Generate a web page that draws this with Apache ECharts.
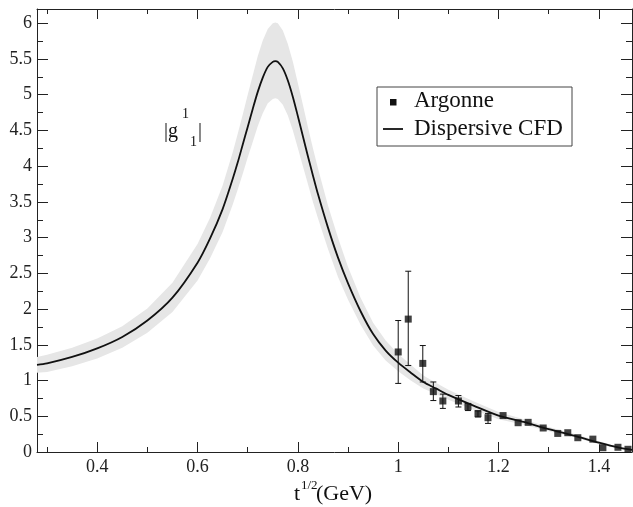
<!DOCTYPE html>
<html>
<head>
<meta charset="utf-8">
<script src="https://cdn.jsdelivr.net/npm/echarts@6/dist/echarts.min.js"></script>
<style>html,body{margin:0;padding:0;background:#fff}#c{width:633px;height:507px}</style>
</head>
<body>
<div id="c"></div>
<script>
// ---- data ----
var cfdT = [0.28,0.30,0.35,0.40,0.45,0.50,0.55,0.60,0.625,0.65,0.67,0.68,0.69,0.70,0.71,0.72,0.73,0.74,0.75,0.755,0.76,0.77,0.78,0.79,0.80,0.81,0.82,0.83,0.84,0.86,0.88,0.90,0.925,0.95,0.975,1.0,1.025,1.05,1.075,1.1,1.15,1.2,1.25,1.3,1.35,1.4,1.44,1.466];
var cfdMid = [1.22,1.24,1.33,1.45,1.61,1.84,2.16,2.65,2.99,3.40,3.82,4.05,4.30,4.55,4.80,5.04,5.24,5.39,5.46,5.47,5.46,5.37,5.20,4.97,4.70,4.42,4.14,3.87,3.61,3.14,2.72,2.36,1.97,1.65,1.42,1.25,1.11,0.98,0.89,0.80,0.65,0.51,0.42,0.32,0.23,0.13,0.06,0.03];
var cfdUpper = [1.33,1.36,1.46,1.59,1.76,2.01,2.37,2.91,3.28,3.73,4.19,4.45,4.72,5.00,5.27,5.54,5.76,5.92,6.00,6.01,6.00,5.90,5.71,5.46,5.16,4.86,4.55,4.25,3.97,3.45,3.00,2.59,2.16,1.81,1.56,1.37,1.22,1.07,0.97,0.87,0.71,0.56,0.46,0.35,0.255,0.15,0.075,0.04];
var cfdLower = [1.11,1.12,1.20,1.31,1.46,1.67,1.96,2.40,2.71,3.08,3.46,3.67,3.89,4.12,4.34,4.56,4.74,4.88,4.94,4.95,4.94,4.86,4.71,4.50,4.25,4.00,3.75,3.50,3.27,2.84,2.45,2.13,1.78,1.49,1.28,1.13,1.00,0.89,0.81,0.73,0.59,0.46,0.38,0.29,0.205,0.11,0.045,0.02];

var argT   = [1.0,1.02,1.049,1.07,1.089,1.12,1.139,1.159,1.179,1.209,1.239,1.259,1.289,1.318,1.338,1.358,1.388,1.408,1.438,1.458];
var argV   = [1.40,1.86,1.24,0.845,0.714,0.714,0.635,0.537,0.48,0.51,0.41,0.415,0.336,0.26,0.27,0.20,0.18,0.06,0.066,0.038];
var argLo  = [0.96,1.21,0.98,0.72,0.61,0.63,0.58,0.49,0.40,0.51,0.41,0.415,0.336,0.26,0.27,0.20,0.18,0.06,0.066,0.038];
var argHi  = [1.84,2.53,1.49,0.98,0.81,0.79,0.68,0.575,0.54,0.51,0.41,0.415,0.336,0.26,0.27,0.20,0.18,0.06,0.066,0.038];

var xMajor = [0.4,0.6,0.8,1.0,1.2,1.4];
var xMinor = [0.3,0.5,0.7,0.9,1.1,1.3];
var yMajor = [0,0.5,1,1.5,2,2.5,3,3.5,4,4.5,5,5.5,6];
var yMinor = [0.25,0.75,1.25,1.75,2.25,2.75,3.25,3.75,4.25,4.75,5.25,5.75];

// ---- chart ----
var FONT = '"Liberation Serif", "DejaVu Serif", serif';
var AX = '#222';
var chart = echarts.init(document.getElementById('c'), null, {renderer: 'canvas'});

function fmt(v){ return String(Math.round(v*100)/100); }

function xAx(pos, vals, len, showLine, showLabel){
  return {
    type: 'value', min: 0.28, max: 1.466, position: pos,
    axisLine: {show: showLine, onZero: false, lineStyle: {color: AX, width: 1}},
    axisTick: {show: true, inside: true, length: len, customValues: vals, lineStyle: {color: AX, width: 1}},
    axisLabel: {show: showLabel, customValues: vals, formatter: fmt, margin: 6,
      fontFamily: FONT, fontSize: 18, color: '#222'},
    splitLine: {show: false}
  };
}
function yAx(pos, vals, len, showLine, showLabel){
  return {
    type: 'value', min: 0, max: 6.2, position: pos,
    axisLine: {show: showLine, onZero: false, lineStyle: {color: AX, width: 1}},
    axisTick: {show: true, inside: true, length: len, customValues: vals, lineStyle: {color: AX, width: 1}},
    axisLabel: {show: showLabel, customValues: vals, formatter: fmt, margin: 5,
      fontFamily: FONT, fontSize: 18, color: '#222'},
    splitLine: {show: false}
  };
}

var midData = cfdT.map(function(t,i){ return [t, cfdMid[i]]; });
var errData = argT.map(function(t,i){ return [t, argLo[i], argHi[i]]; });
var ptData = argT.map(function(t,i){ return [t, argV[i]]; });

var option = {
  animation: false,
  backgroundColor: '#fff',
  grid: {left: 37, right: 1, top: 9, bottom: 55},
  xAxis: [
    xAx('bottom', xMajor, 10, true, true),
    xAx('bottom', xMinor, 5, false, false),
    xAx('top', xMajor, 10, true, false),
    xAx('top', xMinor, 5, false, false)
  ],
  yAxis: [
    yAx('left', yMajor, 11, true, true),
    yAx('left', yMinor, 6, false, false),
    yAx('right', yMajor, 11, true, false),
    yAx('right', yMinor, 6, false, false)
  ],
  series: [
    {type: 'custom', name: 'band', data: [[cfdT[0], cfdMid[0]]], z: 1, silent: true,
      renderItem: function(params, api){
        var pts = [];
        for (var i = 0; i < cfdT.length; i++) pts.push(api.coord([cfdT[i], cfdUpper[i]]));
        for (var j = cfdT.length - 1; j >= 0; j--) pts.push(api.coord([cfdT[j], cfdLower[j]]));
        return {type: 'polygon', shape: {points: pts}, style: {fill: '#e6e6e6', stroke: null}};
      }},
    {type: 'line', name: 'Dispersive CFD', data: midData, symbol: 'none', smooth: 0.3,
      lineStyle: {color: '#111', width: 1.8}, z: 3},
    {type: 'custom', name: 'err', data: errData, z: 4,
      renderItem: function(params, api){
        var x = api.value(0), lo = api.value(1), hi = api.value(2);
        if (hi - lo < 1e-6) return null;
        var a = api.coord([x, lo]), b = api.coord([x, hi]);
        var st = {stroke: '#111', lineWidth: 1};
        return {type: 'group', children: [
          {type: 'line', shape: {x1: a[0], y1: a[1], x2: b[0], y2: b[1]}, style: st},
          {type: 'line', shape: {x1: a[0]-3, y1: a[1], x2: a[0]+3, y2: a[1]}, style: st},
          {type: 'line', shape: {x1: b[0]-3, y1: b[1], x2: b[0]+3, y2: b[1]}, style: st}
        ]};
      }},
    {type: 'scatter', name: 'Argonne', data: ptData, symbol: 'rect', symbolSize: 7,
      itemStyle: {color: '#111'}, z: 5}
  ],
  graphic: [
    // legend
    {type: 'rect', shape: {x: 377, y: 87, width: 195, height: 59}, style: {fill: '#fff', stroke: '#444', lineWidth: 1}, z: 10},
    {type: 'rect', shape: {x: 390, y: 99, width: 6.5, height: 6.5}, style: {fill: '#111'}, z: 11},
    {type: 'line', shape: {x1: 383, y1: 129, x2: 403, y2: 129}, style: {stroke: '#111', lineWidth: 1.8}, z: 11},
    {type: 'text', x: 414, y: 101, style: {text: 'Argonne', font: '23px ' + FONT, fill: '#111', textVerticalAlign: 'middle'}, z: 11},
    {type: 'text', x: 414, y: 129, style: {text: 'Dispersive CFD', font: '23px ' + FONT, fill: '#111', textVerticalAlign: 'middle'}, z: 11},
    // |g^1_1|
    {type: 'text', x: 164, y: 142, style: {text: '|g', font: '20px ' + FONT, fill: '#111', textVerticalAlign: 'bottom'}, z: 11},
    {type: 'text', x: 182, y: 121, style: {text: '1', font: '14px ' + FONT, fill: '#111', textVerticalAlign: 'bottom'}, z: 11},
    {type: 'text', x: 190, y: 149, style: {text: '1', font: '14px ' + FONT, fill: '#111', textVerticalAlign: 'bottom'}, z: 11},
    {type: 'text', x: 198, y: 142, style: {text: '|', font: '20px ' + FONT, fill: '#111', textVerticalAlign: 'bottom'}, z: 11},
    // x-axis title
    {type: 'text', x: 294, y: 505, style: {text: 't', font: '22px ' + FONT, fill: '#111', textVerticalAlign: 'bottom'}, z: 11},
    {type: 'text', x: 301, y: 492, style: {text: '1/2', font: '13px ' + FONT, fill: '#111', textVerticalAlign: 'bottom'}, z: 11},
    {type: 'text', x: 316, y: 505, style: {text: '(GeV)', font: '22px ' + FONT, fill: '#111', textVerticalAlign: 'bottom'}, z: 11}
  ]
};
chart.setOption(option);
</script>
</body>
</html>
